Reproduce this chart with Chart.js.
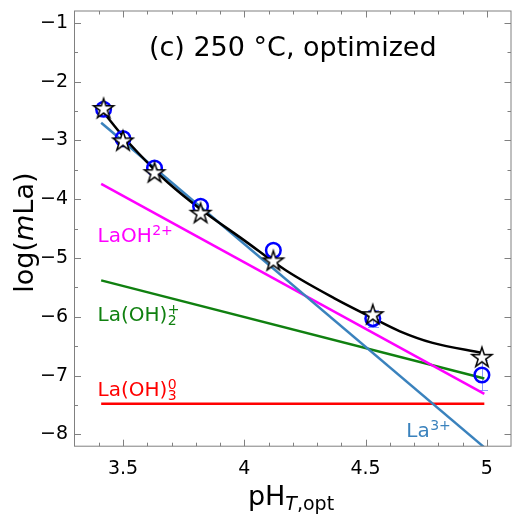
<!DOCTYPE html>
<html>
<head>
<meta charset="utf-8">
<script src="https://cdn.jsdelivr.net/npm/chart.js@4.4.1/dist/chart.umd.min.js"></script>
<style>
  html, body { margin: 0; padding: 0; background: #fff; overflow: hidden; }
  #wrap { width: 522px; height: 522px; }
</style>
</head>
<body>
<div id="wrap"><canvas id="c" width="522" height="522"></canvas></div>
<script>
// Measured / calculated La molality at 250 °C
const pH          = [3.42, 3.50, 3.63, 3.82, 4.12, 4.53, 4.98];
const logCalc     = [-2.45, -3.00, -3.54, -4.23, -5.04, -5.955, -6.68];
const logMeas     = [-2.47, -2.97, -3.47, -4.12, -4.87, -6.03, -6.99];
const logMeasErr  = [0, 0, 0, 0, 0, 0.14, 0.26];

// Total dissolved La (optimized model)
const totalPH  = [3.425, 3.50, 3.63, 3.686, 3.82, 4.00, 4.171, 4.372, 4.53, 4.642, 4.777, 4.98];
const totalLog = [-2.55, -2.93, -3.50, -3.72, -4.17, -4.70, -5.209, -5.686, -6.02, -6.246, -6.443, -6.61];

// Species contributions (straight lines, end points)
const speciesPH   = [3.41, 4.99];
const la3Line     = [-2.70, -8.22];
const laOHLine    = [-3.74, -7.31];
const laOH2Line   = [-5.38, -7.05];
const laOH3Line   = [-7.48, -7.48];

// Axis ticks
const xTickValues = [3.5, 4, 4.5, 5];
const xTickLabels = ['3.5', '4', '4.5', '5'];
const yTickValues = [-8, -7, -6, -5, -4, -3, -2, -1];
const yTickLabels = ['\u22128', '\u22127', '\u22126', '\u22125', '\u22124', '\u22123', '\u22122', '\u22121'];

const FONT = '"DejaVu Sans", sans-serif';
const COLORS = {
  total: '#000000', la3: '#3a82bd', laOH: '#ff00ff', laOH2: '#108010', laOH3: '#ff0000',
  meas: '#0000ff', err: 'rgba(90,110,255,0.7)', frame: '#808080'
};

const pts = (xs, ys) => xs.map((x, i) => ({ x, y: ys[i] }));

function makeStar(R, r, lw) {
  const s = Math.ceil(2 * R + 2 * lw + 2);
  const cv = document.createElement('canvas');
  cv.width = s; cv.height = s;
  const g = cv.getContext('2d');
  g.translate(s / 2, s / 2 + R * 0.1);
  g.beginPath();
  for (let i = 0; i < 10; i++) {
    const a = -Math.PI / 2 + i * Math.PI / 5;
    const rr = i % 2 ? r : R;
    g.lineTo(rr * Math.cos(a), rr * Math.sin(a));
  }
  g.closePath();
  g.fillStyle = '#fff'; g.fill();
  g.lineJoin = 'miter';
  g.strokeStyle = '#000'; g.lineWidth = lw; g.stroke();
  return cv;
}
const starImg = makeStar(10.5, 4.0, 1.5);

const speciesLabels = [
  { x: 3.395, y: -4.733, color: COLORS.laOH,  main: 'LaOH',   sup: '2+' },
  { x: 3.395, y: -6.078, color: COLORS.laOH2, main: 'La(OH)', sub: '2', sup: '+' },
  { x: 3.395, y: -7.339, color: COLORS.laOH3, main: 'La(OH)', sub: '3', sup: '0' },
  { x: 4.668, y: -8.045, color: COLORS.la3,   main: 'La',     sup: '3+' }
];

const frame = {
  id: 'frame',
  beforeDatasetsDraw(chart) {
    const { ctx } = chart;
    const xs = chart.scales.x, ys = chart.scales.y;
    ctx.save();
    ctx.strokeStyle = COLORS.err;
    ctx.lineWidth = 1;
    pH.forEach((v, i) => {
      const e = logMeasErr[i];
      if (!e) return;
      const px = Math.round(xs.getPixelForValue(v)) + 0.5;
      const y1 = Math.round(ys.getPixelForValue(logMeas[i] - e)) + 0.5;
      const y2 = Math.round(ys.getPixelForValue(logMeas[i] + e)) + 0.5;
      ctx.beginPath();
      ctx.moveTo(px, y1); ctx.lineTo(px, y2);
      ctx.moveTo(px - 5.5, y1); ctx.lineTo(px + 5.5, y1);
      ctx.moveTo(px - 5.5, y2); ctx.lineTo(px + 5.5, y2);
      ctx.stroke();
    });
    ctx.restore();
  },
  afterDatasetsDraw(chart) {
    const { ctx, chartArea: a } = chart;
    const xs = chart.scales.x, ys = chart.scales.y;
    ctx.save();

    // species labels with super/subscripts
    ctx.textBaseline = 'alphabetic';
    ctx.textAlign = 'left';
    speciesLabels.forEach(l => {
      let px = xs.getPixelForValue(l.x);
      const py = ys.getPixelForValue(l.y);
      ctx.fillStyle = l.color;
      ctx.font = '20px ' + FONT;
      ctx.fillText(l.main, px, py);
      px += ctx.measureText(l.main).width;
      ctx.font = '14px ' + FONT;
      if (l.sub) ctx.fillText(l.sub, px + 0.5, py + 4);
      if (l.sup) ctx.fillText(l.sup, px + 0.5, py - 7);
    });

    // title inside the axes
    ctx.fillStyle = '#000';
    ctx.font = '27px ' + FONT;
    ctx.textAlign = 'center';
    ctx.fillText('(c) 250 \u00b0C, optimized', (a.left + a.right) / 2, ys.getPixelForValue(-1.57));

    // spines
    ctx.strokeStyle = COLORS.frame;
    ctx.lineWidth = 1;
    ctx.strokeRect(a.left, a.top, a.right - a.left, a.bottom - a.top);

    // inward ticks on all four sides
    const tick = (x1, y1, x2, y2) => { ctx.moveTo(x1, y1); ctx.lineTo(x2, y2); };
    ctx.beginPath();
    for (let k = 34; k <= 50; k++) {
      const v = k / 10;
      const L = k % 5 === 0 ? 6.5 : 3.5;
      const px = Math.round(xs.getPixelForValue(v)) + 0.5;
      tick(px, a.bottom, px, a.bottom - L);
      tick(px, a.top, px, a.top + L);
    }
    for (let k = -16; k <= -2; k++) {
      const v = k / 2;
      const L = k % 2 === 0 ? 6.5 : 3.5;
      const py = Math.round(ys.getPixelForValue(v)) + 0.5;
      tick(a.left, py, a.left + L, py);
      tick(a.right, py, a.right - L, py);
    }
    ctx.stroke();

    // axis titles
    ctx.fillStyle = '#000';
    ctx.save();
    ctx.translate(33, (a.top + a.bottom) / 2 + 4);
    ctx.rotate(-Math.PI / 2);
    const yParts = [['log(', 'normal'], ['m', 'italic'], ['La)', 'normal']];
    let tw = 0;
    yParts.forEach(p => { ctx.font = p[1] + ' 27px ' + FONT; tw += ctx.measureText(p[0]).width; });
    let cx = -tw / 2;
    ctx.textAlign = 'left';
    yParts.forEach(p => { ctx.font = p[1] + ' 27px ' + FONT; ctx.fillText(p[0], cx, 0); cx += ctx.measureText(p[0]).width; });
    ctx.restore();

    ctx.textAlign = 'left';
    ctx.font = '27px ' + FONT;
    const w1 = ctx.measureText('pH').width;
    ctx.font = 'italic 19px ' + FONT;
    const w2 = ctx.measureText('T').width;
    ctx.font = '19px ' + FONT;
    const w3 = ctx.measureText(',opt').width;
    let sx = 291 - (w1 + w2 + w3) / 2;
    const by = 505;
    ctx.font = '27px ' + FONT; ctx.fillText('pH', sx, by); sx += w1;
    ctx.font = 'italic 19px ' + FONT; ctx.fillText('T', sx, by + 5); sx += w2;
    ctx.font = '19px ' + FONT; ctx.fillText(',opt', sx, by + 5);

    ctx.restore();
  }
};

const lineDs = (data, color, order, extra) => Object.assign({
  data, borderColor: color, borderWidth: 2.5, pointRadius: 0, showLine: true,
  fill: false, order, clip: 0
}, extra || {});

new Chart(document.getElementById('c'), {
  type: 'scatter',
  data: {
    datasets: [
      { data: pts(pH, logCalc), pointStyle: starImg, pointRadius: 10, showLine: false, order: 0, clip: false },
      { data: pts(pH, logMeas), pointStyle: 'circle', pointRadius: 7.3, pointBorderWidth: 2.5,
        pointBorderColor: COLORS.meas, pointBackgroundColor: 'rgba(0,0,0,0)', showLine: false, order: 1, clip: false },
      lineDs(pts(totalPH, totalLog), COLORS.total, 2, { cubicInterpolationMode: 'monotone' }),
      lineDs(pts(speciesPH, la3Line), COLORS.la3, 3),
      lineDs(pts(speciesPH, laOHLine), COLORS.laOH, 4),
      lineDs(pts(speciesPH, laOH2Line), COLORS.laOH2, 5),
      lineDs(pts(speciesPH, laOH3Line), COLORS.laOH3, 6)
    ]
  },
  options: {
    responsive: false,
    animation: false,
    events: [],
    layout: { padding: { top: 6.1, right: 2.25, left: 0, bottom: 0 } },
    plugins: { legend: { display: false }, tooltip: { enabled: false } },
    scales: {
      x: {
        type: 'linear', min: 3.3, max: 5.1,
        grid: { display: false, drawTicks: false },
        border: { display: false },
        afterBuildTicks: s => { s.ticks = xTickValues.map(v => ({ value: v })); },
        ticks: {
          autoSkip: false, maxRotation: 0, padding: 11,
          color: '#000', font: { family: FONT, size: 19 },
          callback: (v) => { const i = xTickValues.indexOf(v); return i >= 0 ? xTickLabels[i] : ''; }
        },
        afterFit: s => { s.height = 522 - 446.2; s.paddingLeft = 0; s.paddingRight = 0; }
      },
      y: {
        type: 'linear', min: -8.2, max: -0.8,
        grid: { display: false, drawTicks: false },
        border: { display: false },
        afterBuildTicks: s => { s.ticks = yTickValues.map(v => ({ value: v })); },
        ticks: {
          autoSkip: false, padding: 6.5,
          color: '#000', font: { family: FONT, size: 19 },
          callback: (v) => { const i = yTickValues.indexOf(v); return i >= 0 ? yTickLabels[i] : ''; }
        },
        afterFit: s => { s.width = 74.5; s.paddingTop = 0; s.paddingBottom = 0; }
      }
    }
  },
  plugins: [frame]
});
</script>
</body>
</html>
